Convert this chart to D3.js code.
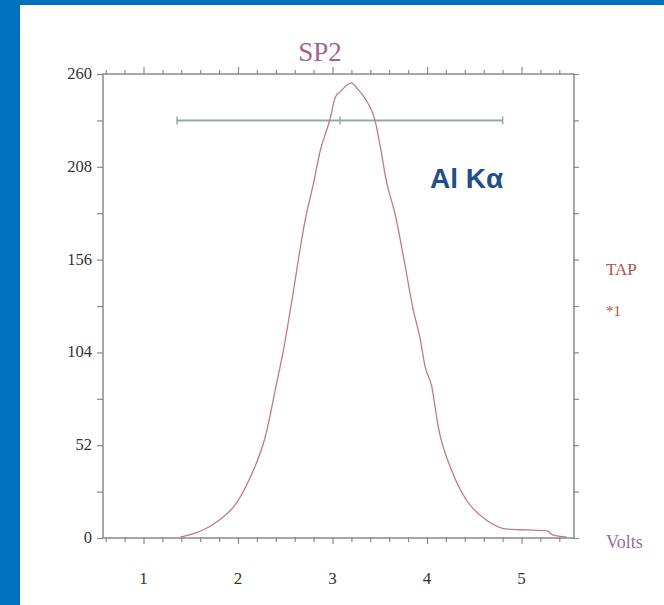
<!DOCTYPE html>
<html>
<head>
<meta charset="utf-8">
<script src="https://cdn.jsdelivr.net/npm/d3@7"></script>
<style>
html,body{margin:0;padding:0;background:#fff;}
svg{display:block;}
</style>
</head>
<body>
<svg id="chart" width="664" height="605"></svg>
<script>
// ---- data ----
const volts  = [1.39,1.63,1.80,1.97,2.13,2.29,2.41,2.48,2.57,2.71,2.80,2.87,2.97,3.03,3.08,3.20,3.26,3.36,3.45,3.50,3.57,3.66,3.75,3.85,3.93,3.98,4.05,4.12,4.26,4.42,4.63,4.85,5.05,5.27,5.33,5.48];
const counts = [0.5,4.5,10,18.5,34,57,87,105,133,178,199,217,234,247,250,255,252,245,234,221,200,182,158,129,111,96,85,62,38,21,10,5,4.5,4,1.7,0.5];
const xTicks = [1,2,3,4,5];
const yTicks = [0,52,104,156,208,260];
const barRange = [1.355, 4.80];
const barCenter = [3.08];
const barLevel = [234];
const title = "SP2";
const peakLabel = "Al K";
const crystalLabels = ["TAP","*1"];
const xUnit = "Volts";

// ---- layout ----
const svg = d3.select("#chart");
svg.append("rect").attr("x",0).attr("y",0).attr("width",664).attr("height",605).attr("fill","#0070c0");
svg.append("rect").attr("x",20).attr("y",5).attr("width",644).attr("height",600).attr("fill","#ffffff");

const L=103, R=574, T=74, B=538;
const x = d3.scaleLinear().domain([1 + (L-143.5)/94.5, 1 + (R-143.5)/94.5]).range([L,R]);
const y = d3.scaleLinear().domain([0,260]).range([B,T]);

const axisColor = "#8a8a8a";
const g = svg.append("g");

// frame
g.append("rect").attr("x",L).attr("y",T).attr("width",R-L).attr("height",B-T)
  .attr("fill","none").attr("stroke",axisColor).attr("stroke-width",1.5);

const minorX = d3.range(0.6,5.55,0.2).map(v=>+v.toFixed(2));
const isMajorX = v => Math.abs(v-Math.round(v))<1e-6;
const minorY = d3.range(0,261,26);

// bottom ticks
const bAxis = d3.axisBottom(x).tickValues(minorX).tickSize(4).tickFormat("");
const gb = g.append("g").attr("transform",`translate(0,${B})`).call(bAxis);
gb.selectAll(".tick line").attr("y1",-1).attr("y2",d=>isMajorX(d)?6:4);
// top ticks
const tAxis = d3.axisTop(x).tickValues(minorX).tickSize(4).tickFormat("");
const gt = g.append("g").attr("transform",`translate(0,${T})`).call(tAxis);
gt.selectAll(".tick line").attr("y2",d=>isMajorX(d)?-7:-4);
// left ticks
const lAxis = d3.axisLeft(y).tickValues(minorY).tickSize(6).tickFormat("");
g.append("g").attr("transform",`translate(${L},0)`).call(lAxis);
// right ticks
const rAxis = d3.axisRight(y).tickValues(minorY).tickSize(5).tickFormat("");
const gr = g.append("g").attr("transform",`translate(${R},0)`).call(rAxis);
gr.selectAll(".tick line").attr("x1",-1);
g.selectAll(".domain").remove();
g.selectAll(".tick line").attr("stroke",axisColor).attr("stroke-width",1.2);

// tick labels
g.selectAll("text.ylab").data(yTicks).join("text").attr("class","ylab")
  .attr("x",92).attr("y",d=>y(d)+5).attr("text-anchor","end")
  .attr("font-family","Liberation Serif, serif").attr("font-size",16.5).attr("fill","#333")
  .text(d=>d);
g.selectAll("text.xlab").data(xTicks).join("text").attr("class","xlab")
  .attr("x",d=>x(d)).attr("y",584).attr("text-anchor","middle")
  .attr("font-family","Liberation Serif, serif").attr("font-size",17).attr("fill","#333")
  .text(d=>d);

// error bar (FWHM)
const barColor = "#8fabab";
g.append("line").attr("x1",x(barRange[0])).attr("x2",x(barRange[1]))
  .attr("y1",y(barLevel[0])).attr("y2",y(barLevel[0]))
  .attr("stroke",barColor).attr("stroke-width",2);
barRange.concat(barCenter).forEach(v=>{
  g.append("line").attr("x1",x(v)).attr("x2",x(v))
    .attr("y1",y(barLevel[0])-4).attr("y2",y(barLevel[0])+4)
    .attr("stroke",barColor).attr("stroke-width",1.5);
});

// curve
const line = d3.line().x((d,i)=>x(volts[i])).y(d=>y(d)).curve(d3.curveMonotoneX);
g.append("path").datum(counts).attr("d",line)
  .attr("fill","none").attr("stroke","#c47a7a").attr("stroke-width",1.3);

// texts
svg.append("text").attr("x",320).attr("y",61).attr("text-anchor","middle")
  .attr("font-family","Liberation Serif, serif").attr("font-size",27).attr("fill","#a4628f")
  .text(title);
const pk = svg.append("text").attr("x",430).attr("y",188)
  .attr("font-family","Liberation Sans, Arial, sans-serif").attr("font-weight","bold")
  .attr("font-size",28).attr("fill","#1f4e8a");
pk.append("tspan").text(peakLabel);
pk.append("tspan").text("α");
svg.append("text").attr("x",606).attr("y",275)
  .attr("font-family","Liberation Serif, serif").attr("font-size",17).attr("fill","#b5504a")
  .text(crystalLabels[0]);
svg.append("text").attr("x",606).attr("y",316)
  .attr("font-family","Liberation Serif, serif").attr("font-size",15).attr("fill","#b5504a")
  .text(crystalLabels[1]);
svg.append("text").attr("x",606).attr("y",548)
  .attr("font-family","Liberation Serif, serif").attr("font-size",18).attr("fill","#9b6b9b")
  .text(xUnit);
</script>
</body>
</html>
